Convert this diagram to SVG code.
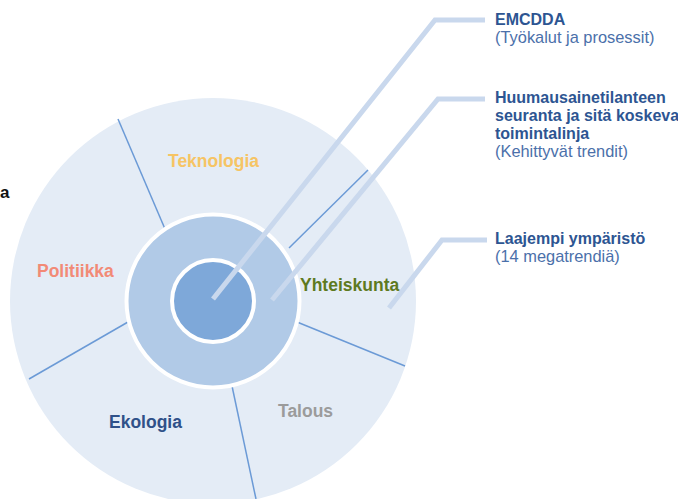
<svg xmlns="http://www.w3.org/2000/svg" width="678" height="499" viewBox="0 0 678 499">
<style>
text{font-family:"Liberation Sans",Arial,sans-serif}
.sec{font-size:17.5px;font-weight:bold}
.div{stroke:#6b9ad6;stroke-width:1.5;fill:none}
.lead{stroke:#c9d8ed;stroke-width:5;fill:none;stroke-linejoin:miter}
.t{font-size:16px;font-weight:bold;fill:#2d5592}
.s{font-size:16.4px;fill:#4b70aa}
.edge{font-size:17px;font-weight:bold;fill:#111}
</style>
<rect width="678" height="499" fill="#ffffff"/>
<g id="edge-text">
<text class="edge" x="0" y="198">a</text>
</g>
<g id="outer">
<circle cx="213" cy="301" r="203" fill="#e4ecf6"/>
</g>
<g id="dividers">
<line class="div" x1="118" y1="119" x2="165" y2="229"/>
<line class="div" x1="289" y1="248" x2="368" y2="170"/>
<line class="div" x1="297" y1="322" x2="405" y2="366"/>
<line class="div" x1="232" y1="386" x2="256" y2="499"/>
<line class="div" x1="128" y1="322" x2="29" y2="379"/>
</g>
<g id="middle">
<circle cx="213" cy="301" r="86.5" fill="#b1cae7" stroke="#ffffff" stroke-width="4"/>
</g>
<g id="inner">
<circle cx="213" cy="301" r="41" fill="#7ea8d9" stroke="#ffffff" stroke-width="4"/>
</g>
<g id="connectors">
<polyline class="lead" points="213,299 435,20 485,20"/>
<polyline class="lead" points="272,300 438,99 485,99"/>
<polyline class="lead" points="389,308 442,240 487,240"/>
</g>
<g id="sector-labels">
<text id="teknologia" class="sec" x="168" y="167" fill="#f6c464">Teknologia</text>
<text id="politiikka" class="sec" x="37" y="277" fill="#f28a76">Politiikka</text>
<text id="yhteiskunta" class="sec" x="300" y="291" fill="#5e7a1f">Yhteiskunta</text>
<text id="ekologia" class="sec" x="109" y="428" fill="#2f5189">Ekologia</text>
<text id="talous" class="sec" x="278" y="417" fill="#9b9b9b">Talous</text>
</g>
<g id="emcdda">
<text class="t" x="495" y="25">EMCDDA</text>
<text class="s" x="495" y="43">(Työkalut ja prosessit)</text>
</g>
<g id="huumausaine">
<text class="t" x="495" y="103">Huumausainetilanteen</text>
<text class="t" x="495" y="121">seuranta ja sitä koskeva</text>
<text class="t" x="495" y="139">toimintalinja</text>
<text class="s" x="495" y="157">(Kehittyvät trendit)</text>
</g>
<g id="laajempi">
<text class="t" x="495" y="244">Laajempi ympäristö</text>
<text class="s" x="495" y="262">(14 megatrendiä)</text>
</g>
</svg>
